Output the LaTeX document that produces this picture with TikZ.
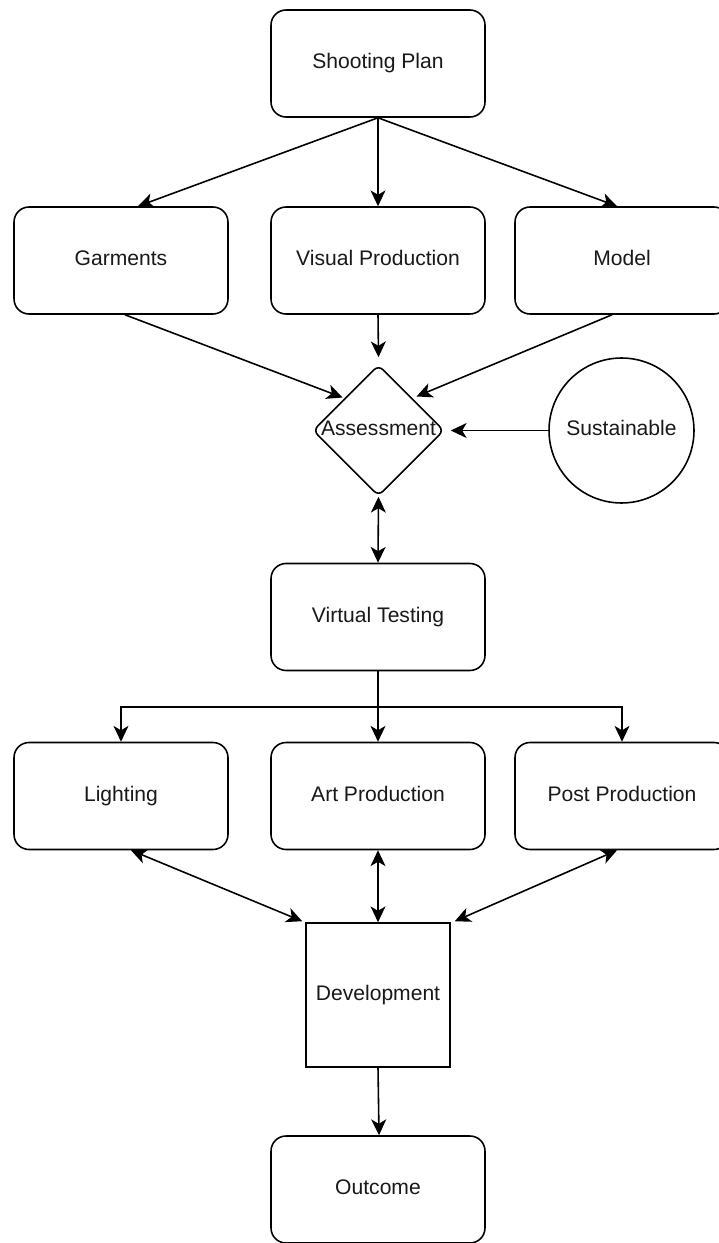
\documentclass[tikz,border=0pt]{standalone}
\usepackage{fontspec}
\setmainfont{Liberation Sans}
\usetikzlibrary{shapes.geometric,arrows.meta,calc}
\begin{document}
\begin{tikzpicture}[x=0.02cm,y=-0.02cm,
  every node/.style={font=\fontsize{12}{14}\selectfont, text=black!90},
  box/.style={draw, line width=0.9pt, rounded corners=0.3cm, minimum width=4.28cm, minimum height=2.14cm, inner sep=0pt, text height=8.6pt, text depth=2.6pt},
  sqbox/.style={draw, line width=0.9pt, minimum width=2.88cm, minimum height=2.88cm, inner sep=0pt, text height=8.6pt, text depth=2.6pt},
  dia/.style={draw, line width=0.9pt, diamond, aspect=1, minimum width=2.62cm, minimum height=2.62cm, inner sep=0pt, rounded corners=0.12cm},
  circ/.style={draw, line width=0.9pt, circle, minimum size=2.9cm, inner sep=0pt, text height=8.6pt, text depth=2.6pt},
  conn/.style={line width=0.9pt, -{Stealth[length=9pt,width=8.5pt,inset=2.5pt]}},
  biconn/.style={line width=0.9pt, {Stealth[length=9pt,width=8.5pt,inset=2.5pt]}-{Stealth[length=9pt,width=8.5pt,inset=2.5pt]}}
]
\path[use as bounding box] (0,0) rectangle (719,1243);
\clip (0,0) rectangle (719,1243);
\fill[white] (0,0) rectangle (719,1243);

\node[box] (sp) at (378,63.5) {Shooting Plan};
\node[box] (gar) at (121,260.5) {Garments};
\node[box] (vp) at (378,260.5) {Visual Production};
\node[box] (mod) at (622,260.5) {Model};
\node[dia, label={[text height=8.6pt, text depth=2.6pt]center:Assessment}] (asm) at (378.5,430.5) {};
\node[circ] (sus) at (621.5,430.5) {Sustainable};
\node[box] (vt) at (378,617) {Virtual Testing};
\node[box] (lig) at (121,796) {Lighting};
\node[box] (art) at (378,796) {Art Production};
\node[box] (post) at (622,796) {Post Production};
\node[sqbox] (dev) at (378,995) {Development};
\node[box] (out) at (378,1189.5) {Outcome};

\draw[conn] (sp.south) -- ($(gar.north)+(17,0)$);
\draw[conn] (sp.south) -- (vp.north);
\draw[conn] (sp.south) -- ($(mod.north)+(-5,0)$);
\draw[conn] ($(gar.south)+(4,0)$) -- ($(asm)+(-36,-33)$);
\draw[conn] (vp.south) -- ($(asm.north)+(0,-7)$);
\draw[conn] ($(mod.south)+(-10,0)$) -- ($(asm)+(38,-34)$);
\draw[conn] (sus.west) -- ($(asm.east)+(6,0)$);
\draw[biconn] (asm.south) -- (vt.north);
\draw[conn] (vt.south) -- ++(0,36) -| (lig.north);
\draw[conn] (vt.south) -- ++(0,36) -| (post.north);
\draw[conn] (vt.south) -- (art.north);
\draw[biconn] ($(lig.south)+(10,0)$) -- ($(dev.north west)+(-3,-1)$);
\draw[biconn] (art.south) -- (dev.north);
\draw[biconn] ($(post.south)+(-5,0)$) -- ($(dev.north east)+(4,-1)$);
\draw[conn] (dev.south) -- ($(out.north)+(1,0)$);
\end{tikzpicture}
\end{document}
